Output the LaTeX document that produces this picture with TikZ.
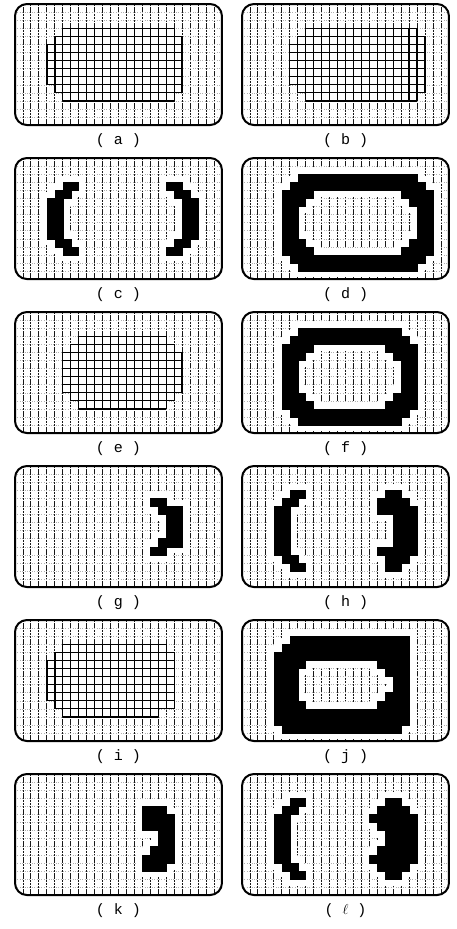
\documentclass[tikz,border=0pt]{standalone}
\usepackage{fontspec}
\newfontfamily\labfont{Liberation Mono}
\tikzset{
 hatchv/.style={line width=0.9pt, black!90, dash pattern=on 2.4pt off 0.8pt},
 hatchh/.style={line width=0.3pt, black!30, dash pattern=on 0.8pt off 1.6pt},
 gl/.style={line width=1.4pt, black},
 frame/.style={line width=2pt, black, rounded corners=12pt},
 halo/.style={draw=white, line width=13pt},
 ink/.style={fill=black, draw=black, line width=0.4pt},
 lab/.style={font=\labfont\fontsize{15}{15}\selectfont, inner sep=0pt},
}
\newcommand{\mygrid}[1]{%
 \foreach \r/\a/\e in {#1} {\fill[white] (\a,\r) rectangle (\e,\r+1);}
 \foreach \r/\a/\e in {#1} {%
   \foreach \c in {\a,...,\e} {\draw[gl] (\c,\r) -- (\c,\r+1);}
   \draw[gl] (\a,\r) -- (\e,\r);
   \draw[gl] (\a,\r+1) -- (\e,\r+1);}}
\newcommand{\myblack}[1]{%
 \foreach \r/\a/\e in {#1} {\draw[halo] (\a,\r) rectangle (\e,\r+1);}
 \foreach \r/\a/\e in {#1} {\filldraw[ink] (\a,\r) rectangle (\e,\r+1);}}
\newcommand{\mypanel}[3]{%
 \begin{scope}[shift={(#1,#2)}, x=7.96pt, y=-8.07pt]
  \begin{scope}
   \clip[rounded corners=12pt] (0,0) rectangle (26,15);
   \fill[white] (0,0) rectangle (26,15);
   \foreach \c in {1,...,25} {\draw[hatchv] (\c,0) -- (\c,15);}
   \foreach \r in {1,...,14} {\draw[hatchh] (0,\r) -- (26,\r);}
   #3
  \end{scope}
  \draw[frame] (0,0) rectangle (26,15);
 \end{scope}}
\begin{document}
\begin{tikzpicture}[x=1pt, y=-1pt]
\useasboundingbox (0,0) rectangle (457,929);
% row 1
\mypanel{15}{4}{\mygrid{3/6/20, 4/5/21, 5/4/21, 6/4/21, 7/4/21, 8/4/21, 9/4/21, 10/5/21, 11/6/20}}
\mypanel{242}{4}{\mygrid{3/8/22, 4/7/23, 5/6/23, 6/6/23, 7/6/23, 8/6/23, 9/6/23, 10/7/23, 11/8/22}}
% row 2
\mypanel{15}{158}{\myblack{3/6/8, 4/5/7, 5/4/6, 6/4/6, 7/4/6, 8/4/6, 9/4/6, 10/5/7, 11/6/8, 3/19/21, 4/20/22, 5/21/23, 6/21/23, 7/21/23, 8/21/23, 9/21/23, 10/20/22, 11/19/21}}
\mypanel{242}{158}{\myblack{2/7/22, 3/6/23, 4/5/9, 4/20/24, 5/5/8, 5/21/24, 6/5/7, 6/22/24, 7/5/7, 7/22/24, 8/5/7, 8/22/24, 9/5/7, 9/22/24, 10/5/8, 10/21/24, 11/5/9, 11/20/24, 12/6/23, 13/7/22}}
% row 3
\mypanel{15}{312}{\mygrid{3/8/19, 4/7/20, 5/6/21, 6/6/21, 7/6/21, 8/6/21, 9/6/21, 10/7/20, 11/8/19}}
\mypanel{242}{312}{\myblack{2/7/20, 3/6/21, 4/5/9, 4/18/22, 5/5/8, 5/19/22, 6/5/7, 6/20/22, 7/5/7, 7/20/22, 8/5/7, 8/20/22, 9/5/7, 9/20/22, 10/5/8, 10/19/22, 11/5/9, 11/18/22, 12/6/21, 13/7/20}}
% row 4
\mypanel{15}{466}{\myblack{4/17/19, 5/18/21, 6/19/21, 7/19/21, 8/19/21, 9/18/21, 10/17/19}}
\mypanel{242}{466}{\myblack{3/6/8, 4/5/7, 5/4/6, 6/4/6, 7/4/6, 8/4/6, 9/4/6, 10/4/6, 11/5/7, 12/6/8, 3/18/20, 4/17/21, 5/17/22, 6/19/22, 7/19/22, 8/19/22, 9/19/22, 10/17/22, 11/18/21, 12/18/20}}
% row 5
\mypanel{15}{620}{\mygrid{3/6/19, 4/5/20, 5/4/20, 6/4/20, 7/4/20, 8/4/20, 9/4/20, 10/5/20, 11/6/18}}
\mypanel{242}{620}{\myblack{2/6/21, 3/5/21, 4/4/21, 5/4/8, 5/17/21, 6/4/7, 6/18/21, 7/4/7, 7/19/21, 8/4/7, 8/19/21, 9/4/7, 9/18/21, 10/4/8, 10/17/21, 11/4/21, 12/4/21, 13/5/20}}
% row 6
\mypanel{15}{774}{\myblack{4/16/19, 5/16/20, 6/16/20, 7/18/20, 8/18/20, 9/17/20, 10/16/20, 11/16/19}}
\mypanel{242}{774}{\myblack{3/6/8, 4/5/7, 5/4/6, 6/4/6, 7/4/6, 8/4/6, 9/4/6, 10/4/6, 11/5/7, 12/6/8, 3/18/20, 4/17/21, 5/16/22, 6/17/22, 7/18/22, 8/18/22, 9/17/22, 10/16/22, 11/17/21, 12/18/20}}
% labels
\node[lab] (la) at (118.5,141) {( a )};
\node[lab] (lb) at (345.5,141) {( b )};
\node[lab] (lc) at (118.5,295) {( c )};
\node[lab] (ld) at (345.5,295) {( d )};
\node[lab] (le) at (118.5,449) {( e )};
\node[lab] (lf) at (345.5,449) {( f )};
\node[lab] (lg) at (118.5,603) {( g )};
\node[lab] (lh) at (345.5,603) {( h )};
\node[lab] (li) at (118.5,757) {( i )};
\node[lab] (lj) at (345.5,757) {( j )};
\node[lab] (lk) at (118.5,911) {( k )};
\node[lab] (ll) at (345.5,911) {( $\ell$ )};
\end{tikzpicture}
\end{document}
